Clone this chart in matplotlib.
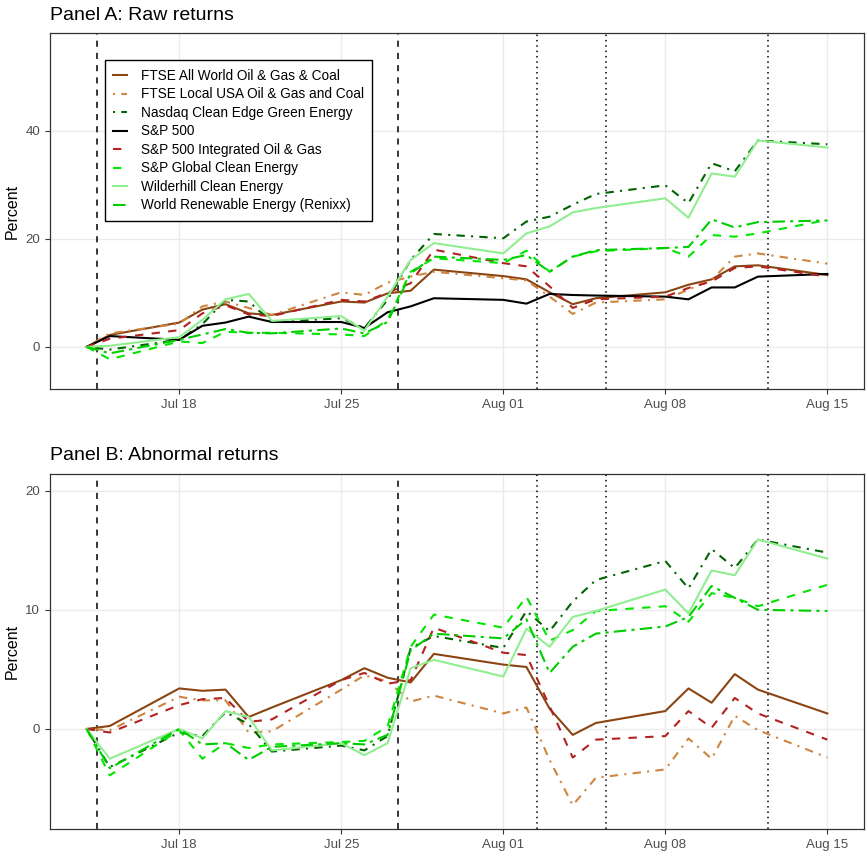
import matplotlib
matplotlib.use("Agg")
import matplotlib.pyplot as plt
import matplotlib.dates as mdates
import pandas as pd

plt.rcParams['font.family'] = ['Liberation Sans', 'DejaVu Sans']

# ---------------- data ----------------
dates = ["2022-07-14", "2022-07-15", "2022-07-18", "2022-07-19", "2022-07-20", "2022-07-21",
         "2022-07-22", "2022-07-25", "2022-07-26", "2022-07-27", "2022-07-28", "2022-07-29",
         "2022-08-01", "2022-08-02", "2022-08-03", "2022-08-04", "2022-08-05", "2022-08-08",
         "2022-08-09", "2022-08-10", "2022-08-11", "2022-08-12", "2022-08-15"]

series_names = ["FTSE All World Oil & Gas & Coal",
                "FTSE Local USA Oil & Gas and Coal",
                "Nasdaq Clean Edge Green Energy",
                "S&P 500",
                "S&P 500 Integrated Oil & Gas",
                "S&P Global Clean Energy",
                "Wilderhill Clean Energy",
                "World Renewable Energy (Renixx)"]

# Panel A: raw returns (percent)
raw_ftse_world = [0, 2.2, 4.5, 6.9, 7.9, 6.2, 5.9, 8.4, 8.2, 9.9, 10.4, 14.3,
                  13.1, 12.5, 10.1, 7.9, 9.0, 10.1, 11.5, 12.5, 14.9, 15.1, 13.3]
raw_ftse_usa = [0, 2.5, 4.3, 7.5, 8.4, 7.2, 5.9, 10.1, 9.6, 11.9, 13.0, 13.9,
                12.7, 12.3, 9.3, 6.1, 8.2, 8.8, 10.6, 12.4, 16.7, 17.3, 15.4]
raw_nasdaq = [0, -0.5, 1.3, 4.2, 8.7, 8.4, 4.6, 5.3, 3.5, 8.7, 16.1, 20.9,
              20.1, 23.2, 24.1, 26.3, 28.3, 29.9, 26.6, 34.0, 32.5, 38.2, 37.5]
raw_sp500 = [0, 2.0, 1.3, 3.9, 4.5, 5.6, 4.6, 4.6, 3.5, 6.4, 7.5, 9.0,
             8.7, 8.0, 9.8, 9.6, 9.5, 9.3, 8.8, 11.0, 11.0, 13.0, 13.5]
raw_sp_integrated = [0, 1.5, 3.1, 6.2, 7.7, 6.0, 5.7, 8.7, 8.4, 10.0, 11.8, 18.0,
                     15.5, 14.9, 11.2, 7.2, 8.8, 9.3, 10.9, 12.1, 14.6, 14.9, 13.0]
raw_sp_global = [0, -2.3, 1.0, 0.7, 2.8, 2.6, 2.6, 2.3, 2.0, 5.0, 13.9, 16.4,
                 15.5, 17.8, 13.9, 16.7, 17.7, 18.3, 16.7, 20.7, 20.4, 21.0, 23.5]
raw_wilderhill = [0, 0.2, 1.8, 5.0, 8.8, 9.8, 4.8, 5.7, 3.0, 9.3, 16.1, 19.2,
                  17.3, 21.0, 22.3, 24.9, 25.7, 27.5, 23.9, 32.1, 31.5, 38.2, 36.9]
raw_renixx = [0, -1.2, 1.3, 2.3, 3.3, 2.6, 2.5, 3.4, 2.5, 4.6, 13.6, 16.7,
              16.1, 17.0, 13.9, 16.7, 17.9, 18.3, 18.5, 23.6, 22.1, 23.1, 23.4]

# Panel B: abnormal returns (percent)
ab_ftse_world = [0, 0.25, 3.4, 3.2, 3.3, 1.0, 1.8, 4.1, 5.1, 4.3, 3.9, 6.3,
                 5.4, 5.2, 1.7, -0.5, 0.5, 1.5, 3.4, 2.2, 4.6, 3.3, 1.3]
ab_ftse_usa = [0, -0.1, 2.7, 2.4, 2.4, -0.3, -0.2, 3.3, 4.5, 4.0, 2.3, 2.8,
               1.3, 1.8, -2.6, -6.4, -4.1, -3.4, -0.8, -2.5, 1.1, -0.1, -2.4]
ab_nasdaq = [0, -3.2, -0.3, -0.6, 1.4, 0.4, -1.9, -1.4, -1.8, -0.6, 6.8, 7.8,
             6.8, 9.9, 8.2, 10.7, 12.5, 14.1, 11.8, 15.1, 13.5, 15.9, 14.8]
ab_sp_integrated = [0, -0.3, 2.0, 2.5, 2.6, 0.6, 0.8, 4.1, 4.7, 3.8, 4.1, 8.5,
                    6.4, 6.2, 1.9, -2.4, -0.9, -0.6, 1.5, 0.1, 2.6, 1.3, -0.9]
ab_sp_global = [0, -3.9, -0.1, -2.5, -1.2, -1.6, -1.3, -1.1, -1.0, 0.2, 6.9, 9.6,
                8.5, 11.1, 7.4, 8.3, 9.9, 10.3, 9.0, 11.4, 11.0, 10.3, 12.1]
ab_wilderhill = [0, -2.5, 0.0, -0.8, 1.5, 1.0, -1.8, -1.2, -2.2, -1.2, 5.1, 5.8,
                 4.4, 8.4, 6.9, 9.4, 9.9, 11.7, 9.7, 13.3, 12.9, 15.9, 14.3]
ab_renixx = [0, -3.3, 0.0, -1.3, -1.2, -2.6, -1.5, -1.2, -1.3, -0.5, 6.6, 8.0,
             7.6, 9.2, 4.7, 6.9, 8.0, 8.6, 9.4, 12.0, 11.0, 10.0, 9.9]

# event markers
dashed_events = ["2022-07-14 10:48", "2022-07-27 10:48"]
dotted_events = ["2022-08-02 10:48", "2022-08-05 10:48", "2022-08-12 10:48"]

x_ticks = ["2022-07-18", "2022-07-25", "2022-08-01", "2022-08-08", "2022-08-15"]

# ---------------- styles ----------------
colors = ["#8B4513", "#CD853F", "#006400", "#000000", "#B22222", "#00E600", "#90EE90", "#00CD00"]
styles = ["-", (0, (1, 3, 4, 3)), (0, (1, 3, 4, 3)), "-", (0, (4, 4)), (0, (4, 4)), "-",
          (0, (6, 2.5, 1.5, 2.5))]

raw = [raw_ftse_world, raw_ftse_usa, raw_nasdaq, raw_sp500, raw_sp_integrated,
       raw_sp_global, raw_wilderhill, raw_renixx]
ab = [ab_ftse_world, ab_ftse_usa, ab_nasdaq, None, ab_sp_integrated,
      ab_sp_global, ab_wilderhill, ab_renixx]

x = pd.to_datetime(dates)

W, H = 866, 852
fig = plt.figure(figsize=(W / 100, H / 100), dpi=100)

def axes_px(left, top, right, bottom):
    return fig.add_axes([left / W, 1 - bottom / H, (right - left) / W, (bottom - top) / H])

axA = axes_px(50, 33, 864, 389)
axB = axes_px(50, 474, 864, 829)

def style_axis(ax, ylim, yticks):
    ax.set_facecolor("white")
    ax.grid(True, color="#EBEBEB", linewidth=1.0)
    ax.set_axisbelow(True)
    for s in ax.spines.values():
        s.set_color("#333333")
        s.set_linewidth(0.9)
    ax.set_ylim(*ylim)
    ax.set_yticks(yticks)
    ax.set_xlim(pd.Timestamp("2022-07-12 10:00"), pd.Timestamp("2022-08-16 14:00"))
    ax.set_xticks(pd.to_datetime(x_ticks))
    ax.xaxis.set_major_formatter(mdates.DateFormatter("%b %d"))
    ax.tick_params(axis="both", colors="#333333", labelcolor="#4D4D4D", labelsize=9.5,
                   length=3.5, width=0.8)
    ax.set_ylabel("Percent", fontsize=11.5, color="black", labelpad=4)
    for d in dashed_events:
        ax.axvline(pd.Timestamp(d), color="black", linestyle=(0, (4, 4)), linewidth=1.1, zorder=1.5)
    for d in dotted_events:
        ax.axvline(pd.Timestamp(d), color="black", linestyle=(0, (1, 2.5)), linewidth=1.1, zorder=1.5)

style_axis(axA, (-7.8, 58.1), [0, 20, 40])
style_axis(axB, (-8.4, 21.4), [0, 10, 20])

for name, c, ls, ya in zip(series_names, colors, styles, raw):
    axA.plot(x, ya, color=c, linestyle=ls, linewidth=1.5, label=name, zorder=3)

for name, c, ls, yb in zip(series_names, colors, styles, ab):
    if yb is None:
        continue
    axB.plot(x, yb, color=c, linestyle=ls, linewidth=1.5, zorder=3)

leg = axA.legend(loc="upper left", bbox_to_anchor=(0.067, 0.924), fontsize=9.8,
                 frameon=True, fancybox=False, edgecolor="black", framealpha=1,
                 handlelength=1.0, handletextpad=1.0, labelspacing=0.33,
                 borderpad=0.65, borderaxespad=0)
leg.get_frame().set_linewidth(1.0)

fig.text(50 / W, 1 - 15 / H, "Panel A: Raw returns", fontsize=14, va="center", ha="left")
fig.text(50 / W, 1 - 455 / H, "Panel B: Abnormal returns", fontsize=14, va="center", ha="left")

fig.savefig("out.png", dpi=100, facecolor="white")
